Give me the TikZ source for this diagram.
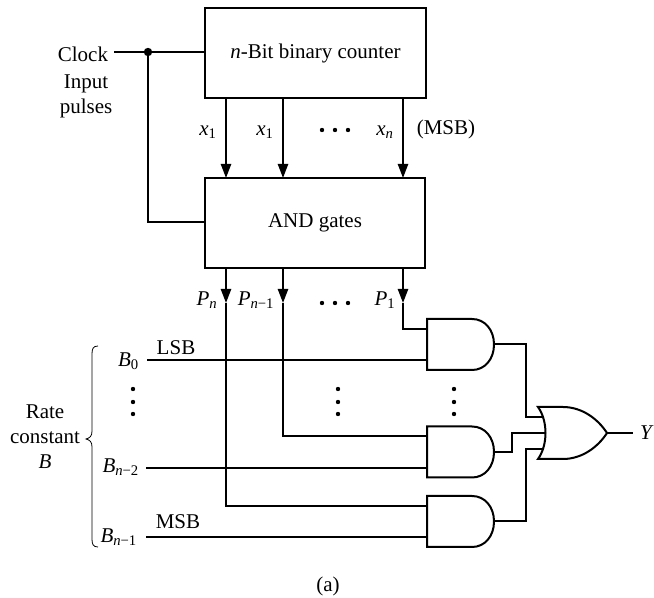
\documentclass[tikz,border=0pt]{standalone}
\usepackage[no-math]{fontspec}
\setmainfont{Liberation Serif}
\usetikzlibrary{arrows.meta}
\newcommand{\mysub}[2]{\textit{#1}\textsubscript{#2}}
\tikzset{
  wire/.style={line width=1.5pt,line join=miter},
  arrowwire/.style={wire,-{Triangle[length=10.5pt,width=7.6pt]}},
  blockbox/.style={draw,line width=1.5pt,rectangle,inner sep=0pt,outer sep=0pt,minimum width=165.5pt,minimum height=67.5pt},
  label/.style={inner sep=0pt,outer sep=0pt},
  andgate/.pic={
    \draw[wire,line join=miter] (0,0) -- (45,0) .. controls (58,0) and (67,11) .. (67,25.5) .. controls (67,40) and (58,51) .. (45,51) -- (0,51) -- cycle;
    \coordinate (-a) at (0,10);
    \coordinate (-b) at (0,41.5);
    \coordinate (-out) at (67,25.5);
  },
  orgate/.pic={
    \draw[wire] (0,0) -- (25,0) .. controls (44,0) and (60,12) .. (69,26) .. controls (60,40) and (44,52) .. (25,52) -- (0,52) .. controls (10,38) and (10,14) .. (0,0) -- cycle;
    \coordinate (-a) at (5,10);
    \coordinate (-b) at (8,26);
    \coordinate (-c) at (5,42);
    \coordinate (-out) at (69,26);
  }
}
\begin{document}
\begin{tikzpicture}[x=0.75pt,y=-0.75pt,font=\fontsize{15.75}{18}\selectfont]
\useasboundingbox (0,0) rectangle (654,598);
% blocks
\node[blockbox] (ctr) at (315.5,53) {\textit{n}-Bit binary counter};
\node[blockbox] (andb) at (315,223) {AND gates};
% columns
\coordinate (c1) at (226,0);
\coordinate (c2) at (283,0);
\coordinate (c3) at (403,0);
\coordinate (tipone) at (226,303);
\coordinate (tiptwo) at (283,303);
\coordinate (tipthree) at (403,303);
% gates
\pic (g1) at (427,319) {andgate};
\pic (g2) at (427,426.5) {andgate};
\pic (g3) at (427,496) {andgate};
\pic (org) at (538,407) {orgate};
% clock
\node[label,anchor=east] (clk) at (108,54) {Clock};
\coordinate (clkstart) at (114,52);
\coordinate (junction) at (148,52);
\draw[wire] (clkstart) -- (clkstart -| ctr.west);
\fill (junction) circle (4.2);
\draw[wire] (junction) -- (junction |- 0,222) -- (andb.west |- 0,222);
\node[label] (inp) at (86,84) {Input};
\node[label] (pul) at (86,108) {pulses};
% counter to AND gates
\draw[arrowwire] (c1 |- ctr.south) -- (c1 |- andb.north);
\draw[arrowwire] (c2 |- ctr.south) -- (c2 |- andb.north);
\draw[arrowwire] (c3 |- ctr.south) -- (c3 |- andb.north);
\node[label] (xa) at (208,132) {\mysub{x}{1}};
\node[label] (xb) at (265,132) {\mysub{x}{1}};
\node[label] (xc) at (385,132) {\mysub{x}{\textit{n}}};
\node[label] (msbt) at (446,129) {(MSB)};
% AND gates outputs
\draw[arrowwire] (c1 |- andb.south) -- (tipone);
\draw[arrowwire] (c2 |- andb.south) -- (tiptwo);
\draw[arrowwire] (c3 |- andb.south) -- (tipthree);
\draw[wire] (tipone) -- (tipone |- g3-a) -- (g3-a);
\draw[wire] (tiptwo) -- (tiptwo |- g2-a) -- (g2-a);
\draw[wire] (tipthree) -- (tipthree |- g1-a) -- (g1-a);
\node[label] (pa) at (207,300) {\mysub{P}{\textit{n}}};
\node[label] (pb) at (256,300) {\mysub{P}{\textit{n}−1}};
\node[label] (pc) at (385,300) {\mysub{P}{1}};
% B inputs
\coordinate (bs1) at (147,0);
\coordinate (bs2) at (146,0);
\coordinate (bs3) at (146,0);
\draw[wire] (bs1 |- g1-b) -- (g1-b);
\draw[wire] (bs2 |- g2-b) -- (g2-b);
\draw[wire] (bs3 |- g3-b) -- (g3-b);
\node[label,anchor=east] (b0) at (139,361) {\mysub{B}{0}};
\node[label,anchor=east] (b2) at (139,467) {\mysub{B}{\textit{n}−2}};
\node[label,anchor=east] (b1) at (137,537) {\mysub{B}{\textit{n}−1}};
\node[label] (lsb) at (176,348) {LSB};
\node[label] (msb) at (178,522) {MSB};
% brace
\draw[line width=0.6pt] (98,346) .. controls (93,346) and (92,349) .. (92,354) -- (92,431) .. controls (92,436) and (90,438) .. (86,439) .. controls (90,440) and (92,442) .. (92,447) -- (92,539) .. controls (92,544) and (93,547) .. (98,547);
\node[label] (rate) at (45,412) {Rate};
\node[label] (cons) at (45,438) {constant};
\node[label] (bb) at (45,462) {\textit{B}};
% outputs to OR
\coordinate (k1) at (526,0);
\coordinate (k2) at (512,0);
\coordinate (k3) at (526,0);
\draw[wire] (g1-out) -- (k1 |- g1-out) -- (k1 |- org-a) -- (org-a);
\draw[wire] (g2-out) -- (k2 |- g2-out) -- (k2 |- org-b) -- (org-b);
\draw[wire] (g3-out) -- (k3 |- g3-out) -- (k3 |- org-c) -- (org-c);
\coordinate (yend) at (633,0);
\draw[wire] (org-out) -- (yend |- org-out);
\node[label] (yy) at (647,433) {\textit{Y}};
% ellipses
\foreach \x in {322,335,348} {\fill (\x,130) circle (2.2); \fill (\x,303) circle (2.2);}
\foreach \x in {133,338,454} {\foreach \y in {389,402,414} {\fill (\x,\y) circle (2.2);}}
\node[label] (cap) at (328,586) {(a)};
\end{tikzpicture}
\end{document}
